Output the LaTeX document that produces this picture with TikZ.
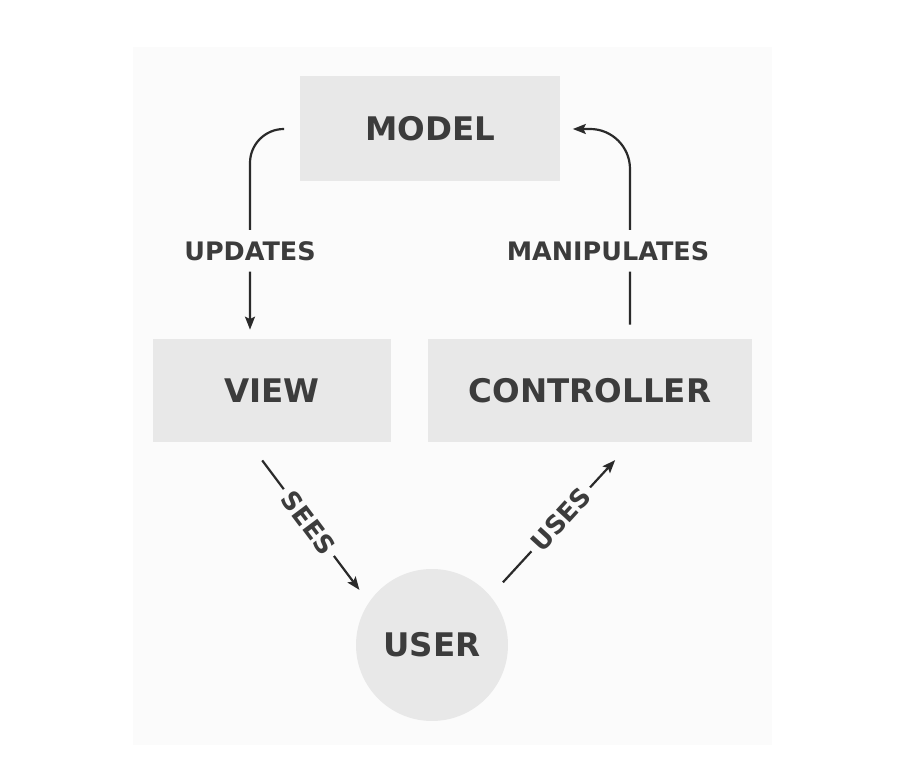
\documentclass[tikz,border=0pt]{standalone}
\usepackage{fontspec}
\setmainfont{DejaVu Sans}
\usepackage{xcolor}
\usetikzlibrary{shapes,arrows,arrows.meta,positioning}
\definecolor{boxgray}{HTML}{E8E8E8}
\definecolor{bggray}{HTML}{FBFBFB}
\definecolor{inkgray}{HTML}{3C3C3C}
\definecolor{linegray}{HTML}{2A2A2A}

\begin{document}
\begin{tikzpicture}[>={Stealth[length=0.26cm, width=0.2cm, inset=0.05cm]}, x=0.02cm, y=0.02cm]

\tikzstyle{part}=[rectangle, fill=boxgray, text=inkgray, inner sep=0pt, minimum height=2.06cm, font=\fontsize{18.5}{22}\selectfont\bfseries]
\tikzstyle{verb}=[fill=bggray, text=inkgray, font=\fontsize{14.5}{16}\selectfont\bfseries]
\tikzstyle{flow}=[->, draw=linegray, line width=1.25pt]

\useasboundingbox (0,0) rectangle (910,780);
\fill[bggray] (133,35) rectangle (772,733);

\node[part, minimum width=5.22cm, minimum height=2.1cm] (Model) at (430,651) {MODEL};
\node[part, minimum width=4.78cm] (View) at (272,389) {VIEW};
\node[part, minimum width=6.48cm] (Controller) at (590,389) {CONTROLLER};
\node[part, circle, minimum size=3.04cm] (User) at (432,135) {USER};

\draw[flow, rounded corners=0.68cm, shorten <=0.34cm, shorten >=0.19cm]
  (Model.west) -| node[verb, pos=0.79, inner ysep=0.22cm] {UPDATES} ([xshift=-0.44cm]View.north);
\draw[flow, rounded corners=0.8cm, shorten <=0.29cm, shorten >=0.24cm]
  ([xshift=0.8cm]Controller.north) |- node[verb, pos=0.21, xshift=-0.44cm, inner ysep=0.22cm] {MANIPULATES} (Model.east);
\draw[flow, shorten <=0.44cm, shorten >=0.31cm]
  ([xshift=-0.46cm]View.south) -- node[verb, sloped, midway] {SEES} (User.146);
\draw[flow, shorten <=0.37cm, shorten >=0.47cm]
  (User.40) -- node[verb, sloped, midway] {USES} ([xshift=0.82cm]Controller.south);
\end{tikzpicture}
\end{document}
